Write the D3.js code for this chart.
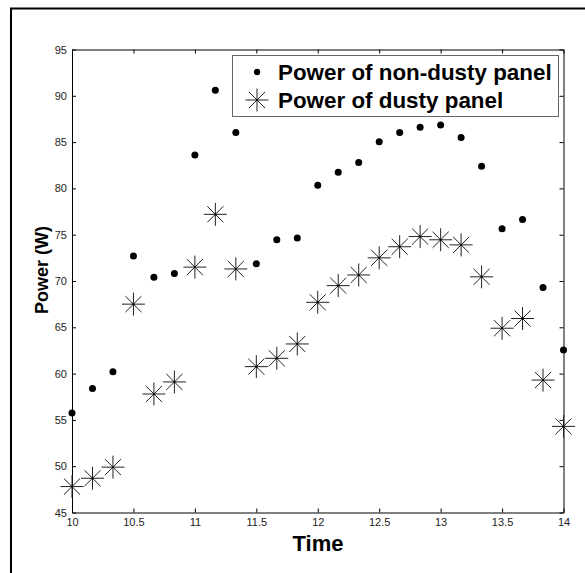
<!DOCTYPE html>
<html>
<head>
<meta charset="utf-8">
<script src="https://cdn.jsdelivr.net/npm/d3@7"></script>
<style>
  body { margin: 0; background: #fff; }
  svg { display: block; font-family: "Liberation Sans", Arial, sans-serif; }
</style>
</head>
<body>
<div id="chart"></div>
<script>
// time of day (hours), one reading every 10 minutes
const times = [10, 10.1667, 10.3333, 10.5, 10.6667, 10.8333, 11, 11.1667, 11.3333, 11.5, 11.6667, 11.8333,
               12, 12.1667, 12.3333, 12.5, 12.6667, 12.8333, 13, 13.1667, 13.3333, 13.5, 13.6667, 13.8333, 14]
const nonDusty = [55.75, 58.4, 60.2, 72.7, 70.4, 70.8, 83.6, 90.6, 86.05, 71.85, 74.45, 74.65,
                  80.35, 81.75, 82.8, 85.05, 86.05, 86.6, 86.85, 85.5, 82.4, 75.65, 76.65, 69.3, 62.55]
const dusty = [47.8, 48.7, 49.9, 67.5, 57.8, 59.1, 71.5, 77.2, 71.3, 60.75, 61.65, 63.2,
               67.7, 69.5, 70.65, 72.5, 73.7, 74.8, 74.45, 73.9, 70.45, 64.9, 65.95, 59.3, 54.3]
const xTicks = [10, 10.5, 11, 11.5, 12, 12.5, 13, 13.5, 14]
const yTicks = [45, 50, 55, 60, 65, 70, 75, 80, 85, 90, 95]
const legendLabels = ["Power of non-dusty panel", "Power of dusty panel"]

drawChart("#chart")

function drawChart(id){
    const canvas = createCanvas()
    const svg = addSvg(id, canvas)
    const sc = addScales(canvas)

    addFrame(svg, canvas)
    addAxes(svg, sc, canvas)
    addDots(svg, sc)
    addStars(svg, sc)
    addLegend(svg)
    addLabels(svg, canvas)
}

function createCanvas(){
    return {
        width: 585, height: 573,
        plot: {left: 72, right: 563.5, top: 49.5, bottom: 512.5}
    }
}

function addSvg(id, canvas){
    return d3.select(id).append("svg")
        .attr("width", canvas.width).attr("height", canvas.height)
}

function addScales(canvas){
    const xScale = d3.scaleLinear().domain([10, 14])
        .range([canvas.plot.left, canvas.plot.right])
    const yScale = d3.scaleLinear().domain([45, 95])
        .range([canvas.plot.bottom, canvas.plot.top])
    return {xScale, yScale}
}

function addFrame(svg, canvas){
    // figure border, only top and left edges fall inside the picture
    svg.append("path")
        .attr("d", `M11,${canvas.height} V8.5 H${canvas.width}`)
        .attr("fill", "none").attr("stroke", "#000").attr("stroke-width", 2)
}

function styleAxis(g){
    g.select(".domain").attr("stroke", "#000")
    g.selectAll(".tick line").attr("stroke", "#000")
    g.selectAll(".tick text").attr("fill", "#222").attr("font-size", 11)
        .attr("font-family", "Liberation Sans, Arial, sans-serif")
}

function addAxes(svg, sc, canvas){
    const p = canvas.plot

    svg.append("g").attr("transform", `translate(0,${p.bottom})`)
        .call(d3.axisBottom(sc.xScale).tickValues(xTicks).tickSizeInner(-4).tickSizeOuter(0)
            .tickPadding(6).tickFormat(d3.format("")))
        .call(styleAxis)

    svg.append("g").attr("transform", `translate(0,${p.top})`)
        .call(d3.axisTop(sc.xScale).tickValues(xTicks).tickSizeInner(-4).tickSizeOuter(0).tickFormat(""))
        .call(styleAxis)

    svg.append("g").attr("transform", `translate(${p.left},0)`)
        .call(d3.axisLeft(sc.yScale).tickValues(yTicks).tickSizeInner(-4).tickSizeOuter(0)
            .tickPadding(5).tickFormat(d3.format("")))
        .call(styleAxis)

    svg.append("g").attr("transform", `translate(${p.right},0)`)
        .call(d3.axisRight(sc.yScale).tickValues(yTicks).tickSizeInner(-4).tickSizeOuter(0).tickFormat(""))
        .call(styleAxis)
}

function addDots(svg, sc){
    svg.append("g").selectAll("circle").data(times).join("circle")
        .attr("cx", d => sc.xScale(d))
        .attr("cy", (d, i) => sc.yScale(nonDusty[i]))
        .attr("r", 3.5).attr("fill", "#000")
}

function starPath(r){
    const d = r * 0.7
    return `M${-r},0H${r}M0,${-r}V${r}M${-d},${-d}L${d},${d}M${-d},${d}L${d},${-d}`
}

function addStars(svg, sc){
    const g = svg.append("g").selectAll("g").data(times).join("g")
        .attr("transform", (d, i) => `translate(${sc.xScale(d)},${sc.yScale(dusty[i])})`)
    g.append("path").attr("d", starPath(11.5)).attr("fill", "none")
        .attr("stroke", "#222").attr("stroke-width", 1)
    g.append("circle").attr("r", 1).attr("fill", "#000")
}

function addLegend(svg){
    const lg = svg.append("g")
    lg.append("rect").attr("x", 232.5).attr("y", 55.5).attr("width", 326).attr("height", 61)
        .attr("fill", "#fff").attr("stroke", "#666")

    lg.append("circle").attr("cx", 257).attr("cy", 72).attr("r", 3.2).attr("fill", "#000")
    lg.append("path").attr("transform", "translate(257,100)").attr("d", starPath(11.5))
        .attr("fill", "none").attr("stroke", "#222")
    lg.append("circle").attr("cx", 257).attr("cy", 100).attr("r", 1).attr("fill", "#000")

    lg.selectAll("text").data(legendLabels).join("text")
        .attr("x", 278).attr("y", (d, i) => 79.5 + i * 28)
        .attr("font-size", 22.4).attr("font-weight", "bold").attr("fill", "#000")
        .text(d => d)
}

function addLabels(svg, canvas){
    const p = canvas.plot
    svg.append("text").attr("x", 318).attr("y", 551)
        .attr("text-anchor", "middle").attr("font-size", 22).attr("font-weight", "bold")
        .text("Time")

    svg.append("text").attr("transform", `translate(48,270) rotate(-90)`)
        .attr("text-anchor", "middle").attr("font-size", 18).attr("font-weight", "bold")
        .text("Power (W)")
}
</script>
</body>
</html>
